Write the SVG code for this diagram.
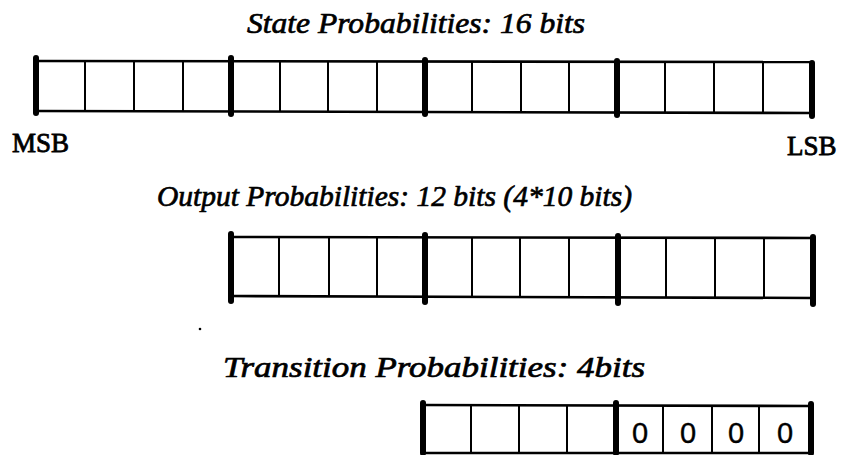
<svg xmlns="http://www.w3.org/2000/svg" width="841" height="455" viewBox="0 0 841 455">
<style>
  .title { font-family: "Liberation Serif", "Times New Roman", serif; font-style: italic; font-size: 30px; fill: #000; stroke: #000; stroke-width: 0.7; }
  .lbl { font-family: "Liberation Serif", "Times New Roman", serif; font-size: 27px; fill: #000; stroke: #000; stroke-width: 0.8; }
  .bit { font-family: "Liberation Sans", Arial, sans-serif; font-size: 29px; fill: #000; text-anchor: middle; stroke: #000; stroke-width: 0.4; }
  .h { stroke: #000; stroke-width: 2.6; fill: none; }
  .t { stroke: #000; stroke-width: 2; fill: none; }
  .k { stroke: #000; stroke-width: 6; stroke-linecap: round; fill: none; }
</style>
<rect width="841" height="455" fill="#fff"/>

<g id="state-probabilities">
  <text class="title" x="247" y="33" textLength="338" lengthAdjust="spacingAndGlyphs">State Probabilities: 16 bits</text>
  <line class="h" x1="36" y1="61" x2="812" y2="62"/>
  <line class="h" x1="36" y1="111" x2="812" y2="113"/>
  <g class="t">
    <line x1="85" y1="61" x2="85" y2="111"/>
    <line x1="134" y1="61" x2="134" y2="111"/>
    <line x1="183" y1="61" x2="183" y2="111"/>
    <line x1="280" y1="61" x2="280" y2="112"/>
    <line x1="328" y1="61" x2="328" y2="112"/>
    <line x1="377" y1="61" x2="377" y2="112"/>
    <line x1="472" y1="62" x2="472" y2="112"/>
    <line x1="521" y1="62" x2="521" y2="112"/>
    <line x1="569" y1="62" x2="569" y2="112"/>
    <line x1="665" y1="62" x2="665" y2="113"/>
    <line x1="714" y1="62" x2="714" y2="113"/>
    <line x1="763" y1="62" x2="763" y2="113"/>
  </g>
  <g class="k">
    <line x1="36" y1="58" x2="36" y2="113"/>
    <line x1="231" y1="58" x2="231" y2="114"/>
    <line x1="425" y1="60" x2="425" y2="114"/>
    <line x1="617" y1="61" x2="617" y2="115"/>
    <line x1="812" y1="63" x2="812" y2="116"/>
  </g>
  <text class="lbl" x="12" y="152">MSB</text>
  <text class="lbl" x="787" y="155">LSB</text>
</g>

<g id="output-probabilities">
  <text class="title" x="157" y="206" textLength="475" lengthAdjust="spacingAndGlyphs">Output Probabilities: 12 bits (4*10 bits)</text>
  <line class="h" x1="231" y1="237" x2="813" y2="238"/>
  <line class="h" x1="231" y1="296" x2="813" y2="298"/>
  <g class="t">
    <line x1="279" y1="237" x2="279" y2="296"/>
    <line x1="329" y1="237" x2="329" y2="296"/>
    <line x1="377" y1="237" x2="377" y2="296"/>
    <line x1="472" y1="237" x2="472" y2="297"/>
    <line x1="520" y1="237" x2="520" y2="297"/>
    <line x1="569" y1="237" x2="569" y2="297"/>
    <line x1="666" y1="238" x2="666" y2="297"/>
    <line x1="715" y1="238" x2="715" y2="298"/>
    <line x1="764" y1="238" x2="764" y2="298"/>
  </g>
  <g class="k">
    <line x1="231" y1="234" x2="231" y2="301"/>
    <line x1="425" y1="235" x2="425" y2="302"/>
    <line x1="618" y1="236" x2="618" y2="303"/>
    <line x1="813" y1="237" x2="813" y2="304"/>
  </g>
</g>

<circle cx="200" cy="329" r="1.3" fill="#000"/>

<g id="transition-probabilities">
  <text class="title" x="223" y="377" textLength="422" lengthAdjust="spacingAndGlyphs">Transition Probabilities: 4bits</text>
  <line class="h" x1="423" y1="405" x2="811" y2="406"/>
  <line class="h" x1="423" y1="453" x2="811" y2="453"/>
  <g class="t">
    <line x1="471" y1="405" x2="471" y2="453"/>
    <line x1="519" y1="405" x2="519" y2="453"/>
    <line x1="567" y1="405" x2="567" y2="453"/>
    <line x1="663" y1="405" x2="663" y2="453"/>
    <line x1="712" y1="405" x2="712" y2="453"/>
    <line x1="759" y1="406" x2="759" y2="453"/>
  </g>
  <g class="k">
    <line x1="423" y1="403" x2="423" y2="453"/>
    <line x1="616" y1="403" x2="616" y2="453"/>
    <line x1="811" y1="404" x2="811" y2="453"/>
  </g>
  <text class="bit" x="640" y="443">0</text>
  <text class="bit" x="688" y="443">0</text>
  <text class="bit" x="736" y="443">0</text>
  <text class="bit" x="785" y="443">0</text>
</g>
</svg>
